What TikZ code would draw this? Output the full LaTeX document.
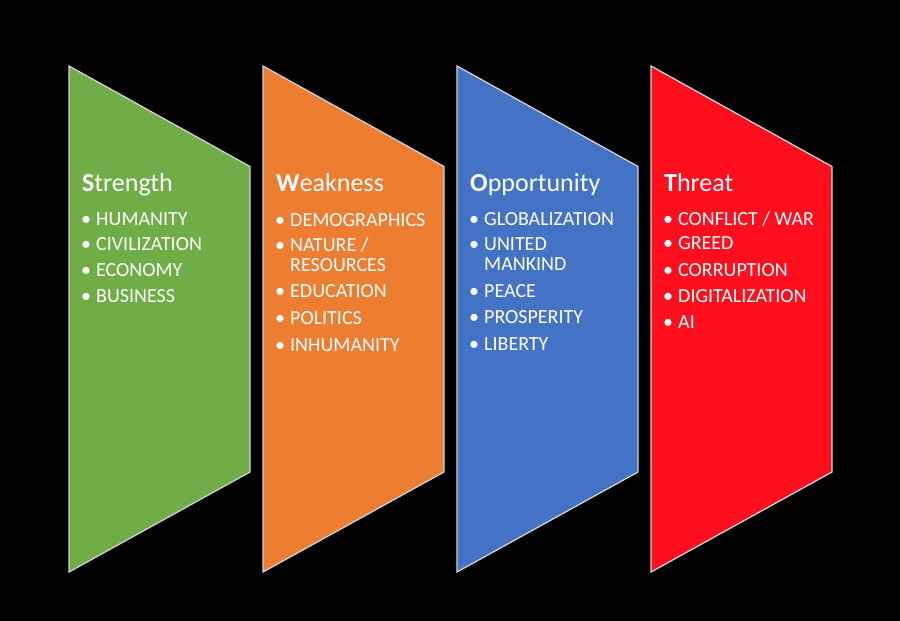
\documentclass[tikz,border=0pt]{standalone}
\usepackage{fontspec}
\setmainfont{Carlito}
\definecolor{cgreen}{HTML}{70AD47}
\definecolor{corange}{HTML}{ED7D31}
\definecolor{cblue}{HTML}{4472C4}
\definecolor{cred}{HTML}{FF0E1E}
\definecolor{edgecol}{HTML}{D0D0D0}
\tikzset{
  panel/.style={draw=edgecol, line width=1.3pt, line join=miter},
  ttl/.style={anchor=base west, inner sep=0pt, text=white, font=\fontsize{26}{28}\selectfont},
  itm/.style={anchor=base west, inner sep=0pt, text=white, font=\fontsize{20}{22}\selectfont},
  bul/.style={anchor=base, inner sep=0pt, text=white, font=\fontsize{20}{22}\selectfont},
}
\begin{document}
\begin{tikzpicture}[x=1pt,y=-1pt]
\fill[black] (0,0) rectangle (900,621);
\useasboundingbox (0,0) rectangle (900,621);
% Strength
\begin{scope}
\draw[panel, fill=cgreen] (69,66) -- (250,166.5) -- (250,472) -- (69,572) -- cycle;
\node[ttl] (t1) at (82,191) {{\bfseries S}trength};
\node[bul] (b11) at (86,225) {•}; \node[itm] (i11) at (96,225) {HUMANITY};
\node[bul] (b12) at (86,250) {•}; \node[itm] (i12) at (96,250) {CIVILIZATION};
\node[bul] (b13) at (86,276.5) {•}; \node[itm] (i13) at (96,276.5) {ECONOMY};
\node[bul] (b14) at (86,302) {•}; \node[itm] (i14) at (96,302) {BUSINESS};
\end{scope}
% Weakness
\begin{scope}[xshift=194pt]
\draw[panel, fill=corange] (69,66) -- (250,166.5) -- (250,472) -- (69,572) -- cycle;
\node[ttl] (t2) at (82,191) {{\bfseries W}eakness};
\node[bul] (b21) at (86,226) {•}; \node[itm] (i21) at (96,226) {DEMOGRAPHICS};
\node[bul] (b22) at (86,251) {•}; \node[itm] (i22) at (96,251) {NATURE /};
\node[itm] (i22b) at (96,271.5) {RESOURCES};
\node[bul] (b23) at (86,297.5) {•}; \node[itm] (i23) at (96,297.5) {EDUCATION};
\node[bul] (b24) at (86,324) {•}; \node[itm] (i24) at (96,324) {POLITICS};
\node[bul] (b25) at (86,351) {•}; \node[itm] (i25) at (96,351) {INHUMANITY};
\end{scope}
% Opportunity
\begin{scope}[xshift=388pt]
\draw[panel, fill=cblue] (69,66) -- (250,166.5) -- (250,472) -- (69,572) -- cycle;
\node[ttl] (t3) at (82,191) {{\bfseries O}pportunity};
\node[bul] (b31) at (86,225) {•}; \node[itm] (i31) at (96,225) {GLOBALIZATION};
\node[bul] (b32) at (86,250) {•}; \node[itm] (i32) at (96,250) {UNITED};
\node[itm] (i32b) at (96,270.5) {MANKIND};
\node[bul] (b33) at (86,297) {•}; \node[itm] (i33) at (96,297) {PEACE};
\node[bul] (b34) at (86,323) {•}; \node[itm] (i34) at (96,323) {PROSPERITY};
\node[bul] (b35) at (86,350) {•}; \node[itm] (i35) at (96,350) {LIBERTY};
\end{scope}
% Threat
\begin{scope}[xshift=582pt]
\draw[panel, fill=cred] (69,66) -- (250,166.5) -- (250,472) -- (69,572) -- cycle;
\node[ttl] (t4) at (82,191) {{\bfseries T}hreat};
\node[bul] (b41) at (86,225) {•}; \node[itm] (i41) at (96,225) {CONFLICT / WAR};
\node[bul] (b42) at (86,249.5) {•}; \node[itm] (i42) at (96,249.5) {GREED};
\node[bul] (b43) at (86,276) {•}; \node[itm] (i43) at (96,276) {CORRUPTION};
\node[bul] (b44) at (86,302) {•}; \node[itm] (i44) at (96,302) {DIGITALIZATION};
\node[bul] (b45) at (86,328) {•}; \node[itm] (i45) at (96,328) {AI};
\end{scope}
\end{tikzpicture}
\end{document}
